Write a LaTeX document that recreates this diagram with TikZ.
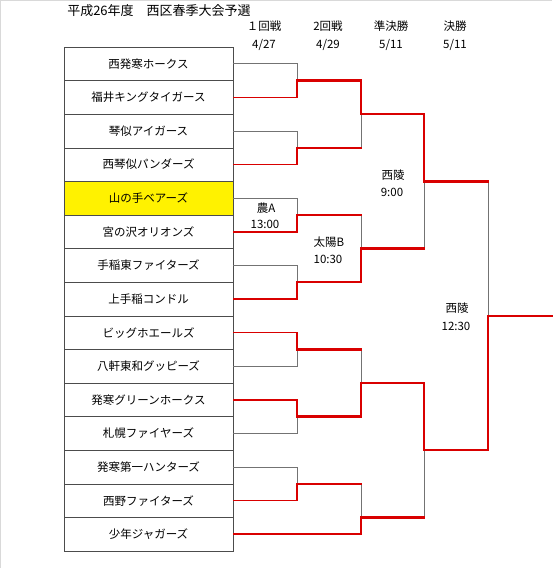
\documentclass[tikz,border=0pt]{standalone}
\usepackage{fontspec}
\setmainfont{Noto Sans CJK JP}

\begin{document}
\begin{tikzpicture}[x=1pt, y=-1pt, every node/.style={inner sep=0pt, font=\fontsize{11.5}{13}\selectfont}, team/.style={draw=black!70, thin, minimum width=169pt, minimum height=33.6pt}, loser/.style={draw=black!55, line width=1pt}, winner/.style={draw=red!85!black, line width=1.6pt}, winbold/.style={draw=red!85!black, line width=2.4pt, line cap=rect}]
			\useasboundingbox (0,0) rectangle (552,568);
			\fill[white] (0,0) rectangle (552,568);
			\draw[black!15, line width=1pt] (0.5,568) -- (0.5,0.5) -- (552,0.5);
			
			\node[font=\fontsize{13}{15}\selectfont] (title) at (159,10.5){平成26年度　西区春季大会予選};
			\node (r1) at (264,26){１回戦};
			\node (r2) at (328,26){2回戦};
			\node (r3) at (391,26){準決勝};
			\node (r4) at (455,26){決勝};
			\node (d1) at (264,45){4/27};
			\node (d2) at (328,45){4/29};
			\node (d3) at (391,45){5/11};
			\node (d4) at (455,45){5/11};
			
			\node[team] (t1) at (148.5,63.8){西発寒ホークス};
			\node[team] (t2) at (148.5,97.4){福井キングタイガース};
			\node[team] (t3) at (148.5,131.0){琴似アイガース};
			\node[team] (t4) at (148.5,164.6){西琴似パンダーズ};
			\node[team, fill=yellow] (t5) at (148.5,198.2){山の手ベアーズ};
			\node[team] (t6) at (148.5,231.8){宮の沢オリオンズ};
			\node[team] (t7) at (148.5,265.4){手稲東ファイターズ};
			\node[team] (t8) at (148.5,299.0){上手稲コンドル};
			\node[team] (t9) at (148.5,332.6){ビッグホエールズ};
			\node[team] (t10) at (148.5,366.2){八軒東和グッピーズ};
			\node[team] (t11) at (148.5,399.8){発寒グリーンホークス};
			\node[team] (t12) at (148.5,433.4){札幌ファイヤーズ};
			\node[team] (t13) at (148.5,467.0){発寒第一ハンターズ};
			\node[team] (t14) at (148.5,500.6){西野ファイターズ};
			\node[team] (t15) at (148.5,534.2){少年ジャガーズ};
			
			\coordinate (m12) at (297,80.6);
			\coordinate (m34) at (297,147.8);
			\coordinate (m56) at (297,215.0);
			\coordinate (m78) at (297,282.2);
			\coordinate (m910) at (297,349.4);
			\coordinate (m1112) at (297,416.6);
			\coordinate (m1314) at (297,483.8);
			\coordinate (n1) at (361,114.2);
			\coordinate (n2) at (361,248.6);
			\coordinate (n3) at (361,383.0);
			\coordinate (n4) at (361,517.4);
			\coordinate (s1) at (424,181.4);
			\coordinate (s2) at (424,450.2);
			\coordinate (champ) at (488,315.8);
			\coordinate (goal) at (552,315.8);
			
			\node (placeA) at (266,208){農A};
			\node (timeA) at (265,224){13:00};
			\node (placeB) at (329,242){太陽B};
			\node (timeB) at (328,259){10:30};
			\node (placeS) at (393,175){西陵};
			\node (timeS) at (392,192){9:00};
			\node (placeF) at (457,308){西陵};
			\node (timeF) at (456,326){12:30};
			
			% lost
			\draw[loser] (t1.east) -| (m12);
			\draw[loser] (t3.east) -| (m34);
			\draw[loser] (t5.east) -| (m56);
			\draw[loser] (t7.east) -| (m78);
			\draw[loser] (t10.east) -| (m910);
			\draw[loser] (t12.east) -| (m1112);
			\draw[loser] (t13.east) -| (m1314);
			\draw[loser] (m34 -| n1) -- (n1);
			\draw[loser] (m56 -| n2) -- (n2);
			\draw[loser] (m910 -| n3) -- (n3);
			\draw[loser] (m1314 -| n4) -- (n4);
			\draw[loser] (n2 -| s1) -- (s1);
			\draw[loser] (n4 -| s2) -- (s2);
			\draw[loser] (s1 -| champ) -- (champ);
			
			% won
			\draw[winner] (t2.east) -| (m12);
			\draw[winner] (t4.east) -| (m34);
			\draw[winner] (t6.east) -| (m56);
			\draw[winner] (t8.east) -| (m78);
			\draw[winner] (t9.east) -| (m910);
			\draw[winner] (t11.east) -| (m1112);
			\draw[winner] (t14.east) -| (m1314);
			\draw[winbold, line cap=butt] (t15.east) -| (n4);
			\draw[winbold] (m12) -| (n1);
			\draw[winbold] (m34) -- (m34 -| n1);
			\draw[winbold] (m56) -- (m56 -| n2);
			\draw[winbold] (m78) -| (n2);
			\draw[winbold] (m910) -- (m910 -| n3);
			\draw[winbold] (m1112) -| (n3);
			\draw[winbold] (m1314) -- (m1314 -| n4);
			\draw[winbold] (n1) -| (s1);
			\draw[winbold] (n2) -- (n2 -| s1);
			\draw[winbold] (n3) -| (s2);
			\draw[winbold] (n4) -- (n4 -| s2);
			\draw[winbold] (s1) -- (s1 -| champ);
			\draw[winbold] (s2) -| (champ);
			\draw[winbold] (champ) -- (goal);
			\end{tikzpicture}
\end{document}
